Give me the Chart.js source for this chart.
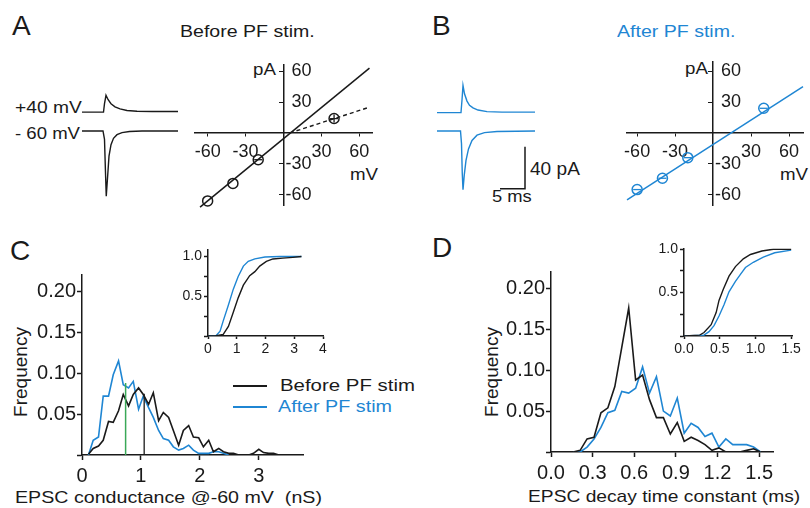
<!DOCTYPE html>
<html>
<head>
<meta charset="utf-8">
<script src="https://cdn.jsdelivr.net/npm/chart.js@4.4.1/dist/chart.umd.min.js"></script>
<style>
  html, body { margin: 0; padding: 0; overflow: hidden; background: #fff; }
  body { position: relative; width: 810px; height: 508px; font-family: "Liberation Sans", Arial, Helvetica, sans-serif; color: #1a1a1a; }
  canvas { position: absolute; }
  .t { position: absolute; white-space: pre; line-height: 1; transform-origin: 0 0; }
  .v { position: absolute; white-space: nowrap; line-height: 1; font-size: 19px; transform: translate(-50%, -50%) rotate(-90deg); }
  .sw { position: absolute; width: 34px; height: 2px; }
</style>
</head>
<body>
<div class="t" style="left:12px;top:12px;font-size:28px">A</div>
<div class="t" style="left:432px;top:12px;font-size:28px">B</div>
<div class="t" style="left:10px;top:237px;font-size:28px">C</div>
<div class="t" style="left:432px;top:234px;font-size:28px">D</div>

<div class="t" style="left:180px;top:23px;font-size:17px;transform:scaleX(1.15)">Before PF stim.</div>
<div class="t" style="left:617px;top:23px;font-size:17px;transform:scaleX(1.15);color:#1f86d3">After PF stim.</div>

<div class="t" style="left:15px;top:100px;font-size:16px;transform:scaleX(1.2)">+40 mV</div>
<div class="t" style="left:15px;top:126px;font-size:16px;transform:scaleX(1.16)">- 60 mV</div>

<div class="t" style="left:253px;top:61px;font-size:17px;transform:scaleX(1.1)">pA</div>
<div class="t" style="left:350px;top:166px;font-size:17px;transform:scaleX(1.1)">mV</div>
<div class="t" style="left:685px;top:60px;font-size:17px;transform:scaleX(1.1)">pA</div>
<div class="t" style="left:780px;top:166px;font-size:17px;transform:scaleX(1.1)">mV</div>

<div class="t" style="left:530px;top:160px;font-size:18px;transform:scaleX(1.06)">40 pA</div>
<div class="t" style="left:492px;top:188px;font-size:17px;transform:scaleX(1.08)">5 ms</div>

<div class="sw" style="left:233px;top:385px;background:#1a1a1a"></div>
<div class="sw" style="left:233px;top:406px;background:#1f86d3"></div>
<div class="t" style="left:280px;top:377px;font-size:17px;transform:scaleX(1.2)">Before PF stim</div>
<div class="t" style="left:278px;top:398px;font-size:17px;transform:scaleX(1.16);color:#1f86d3">After PF stim</div>

<div class="t" style="left:15px;top:489px;font-size:17px;transform:scaleX(1.155)">EPSC conductance @-60 mV  (nS)</div>
<div class="t" style="left:528px;top:488px;font-size:17px;transform:scaleX(1.13)">EPSC decay time constant (ms)</div>
<div class="v" style="left:20px;top:372px">Frequency</div>
<div class="v" style="left:491px;top:372px">Frequency</div>

<script>
const INK = "#1a1a1a";
const BLUE = "#1f86d3";
const GREEN = "#3aa857";
const FONT = '"Liberation Sans", Arial, Helvetica, sans-serif';

// --- A / B : I-V relations (mV, pA)
const ivVoltsA = [-60, -40, -20, 40];
const ivCurrA = [-66, -49, -26, 14];
const fitA_V = [-66, 68];
const fitA_I = [-72, 63];
const dashA_V = [5, 68];
const dashA_I = [0, 25];
const ivVoltsB = [-60, -40, -20, 40];
const ivCurrB = [-55, -44, -24, 24];
const fitB_V = [-68, 71];
const fitB_I = [-65, 45];
const ivTicks = [-60, -30, 30, 60];

// --- example EPSC traces (ms, pA)
const tA60 = [0, 4.2, 4.5, 4.7, 4.85, 5.1, 5.4, 5.8, 6.3, 7.0, 8.0, 9.5, 12, 19.2];
const iA60 = [0, 0, -8, -40, -62, -45, -24, -13, -7, -3.5, -1.5, -0.5, 0, 0];
const tA40 = [0, 4.3, 4.5, 4.8, 5.2, 5.8, 6.6, 7.6, 9, 11, 14, 19.2];
const iA40 = [0, 0, 8, 16, 12, 8, 5, 3, 1.5, 0.8, 0.5, 0.5];
const tB60 = [0, 4.7, 4.9, 5.05, 5.2, 5.45, 5.8, 6.3, 7.0, 8.0, 9.5, 12, 19.6];
const iB60 = [0, 0, -12, -40, -56, -42, -28, -17, -9, -4, -1.5, -0.5, 0];
const tB40 = [0, 4.8, 5.0, 5.2, 5.5, 6.0, 6.5, 7.2, 8.2, 10, 13, 19.6];
const iB40 = [0, 0, 12, 26, 18, 11, 7, 4.5, 2.5, 1, 0.5, 0.5];
const barT = [12.6, 17.6, 17.6];
const barI = [-55, -55, -15];

// --- C : conductance histogram (nS, frequency)
const condBins = [0.11, 0.19, 0.28, 0.36, 0.45, 0.53, 0.62, 0.70, 0.79, 0.87, 0.96, 1.04, 1.13, 1.21, 1.30, 1.38, 1.47, 1.55, 1.64, 1.72, 1.81, 1.89, 1.98, 2.06, 2.15, 2.23, 2.32, 2.40, 2.49, 2.57, 2.66, 2.74, 2.83, 2.91, 3.00, 3.08, 3.17, 3.25, 3.34];
const condBefore = [0.001, 0.008, 0.011, 0.018, 0.041, 0.040, 0.054, 0.074, 0.060, 0.074, 0.082, 0.074, 0.062, 0.076, 0.042, 0.052, 0.046, 0.030, 0.012, 0.030, 0.036, 0.022, 0.021, 0.010, 0.018, 0.004, 0.008, 0.004, 0.002, 0.002, 0, 0, 0, 0.002, 0.007, 0.003, 0.002, 0.002, 0];
const condAfter = [0, 0.018, 0.022, 0.072, 0.072, 0.098, 0.115, 0.086, 0.082, 0.090, 0.056, 0.072, 0.058, 0.046, 0.030, 0.020, 0.018, 0.010, 0.006, 0.008, 0.012, 0.006, 0.002, 0.002, 0.002, 0.004, 0.004, 0.002, 0];
const condMeanX = [0.74, 1.055];
const condMeanTop = [0.088, 0.075];
const condCumX_before = [0, 0.24, 0.53, 0.71, 0.88, 1.05, 1.23, 1.45, 1.63, 1.80, 2.03, 2.26, 2.6, 2.95, 3.25];
const condCum_before = [0, 0, 0.02, 0.12, 0.30, 0.48, 0.64, 0.76, 0.81, 0.88, 0.94, 0.97, 0.98, 0.99, 1.0];
const condCumX_after = [0, 0.27, 0.42, 0.53, 0.71, 0.88, 1.05, 1.23, 1.40, 1.63, 1.98, 2.5, 3.25];
const condCum_after = [0, 0, 0.06, 0.19, 0.39, 0.59, 0.75, 0.88, 0.94, 0.97, 0.995, 1.0, 1.0];

// --- D : decay time constant histogram (ms, frequency)
const decayBins = [0.16, 0.21, 0.26, 0.31, 0.36, 0.41, 0.46, 0.51, 0.56, 0.61, 0.66, 0.71, 0.76, 0.81, 0.86, 0.91, 0.96, 1.01, 1.06, 1.11, 1.16, 1.21, 1.26, 1.31, 1.36, 1.41, 1.46, 1.51];
const decayBefore = [0, 0.002, 0.016, 0.018, 0.048, 0.054, 0.080, 0.128, 0.176, 0.088, 0.094, 0.064, 0.042, 0.042, 0.022, 0.036, 0.013, 0.018, 0.014, 0.009, 0.002, 0.005, 0, 0, 0, 0.002, 0.004, 0];
const decayAfter = [0, 0, 0.006, 0.016, 0.030, 0.048, 0.051, 0.074, 0.072, 0.078, 0.104, 0.072, 0.092, 0.050, 0.044, 0.066, 0.023, 0.035, 0.030, 0.019, 0.023, 0.006, 0.016, 0.009, 0.009, 0.009, 0.006, 0];
const decayCumX_before = [0, 0.22, 0.28, 0.38, 0.45, 0.49, 0.55, 0.63, 0.72, 0.83, 0.93, 1.09, 1.25, 1.5];
const decayCum_before = [0, 0.01, 0.04, 0.13, 0.27, 0.41, 0.54, 0.69, 0.80, 0.89, 0.94, 0.98, 1.0, 1.0];
const decayCumX_after = [0, 0.28, 0.35, 0.42, 0.49, 0.56, 0.63, 0.72, 0.79, 0.86, 0.97, 1.11, 1.27, 1.5];
const decayCum_after = [0, 0.01, 0.05, 0.12, 0.23, 0.36, 0.51, 0.63, 0.71, 0.79, 0.85, 0.91, 0.96, 0.99];

const histYTicks = [0, 0.05, 0.10, 0.15, 0.20];
const condXTicks = [0, 1, 2, 3];
const decayXTicks = [0, 0.3, 0.6, 0.9, 1.2, 1.5];
const cumYTicks = [0, 0.25, 0.5, 0.75, 1.0];
const condCumXTicks = [0, 1, 2, 3, 4];
const decayCumXTicks = [0, 0.5, 1.0, 1.5];

Chart.defaults.font.family = FONT;
Chart.defaults.color = INK;
Chart.defaults.plugins.legend.display = false;
Chart.defaults.plugins.tooltip.enabled = false;

function makeCanvas(left, top, w, h) {
  const c = document.createElement("canvas");
  c.width = w;
  c.height = h;
  c.style.left = left + "px";
  c.style.top = top + "px";
  c.style.width = w + "px";
  c.style.height = h + "px";
  document.body.appendChild(c);
  return c.getContext("2d");
}

function pts(xs, ys, shift) {
  return xs.map((x, i) => ({ x: x, y: ys[i] + (shift || 0) }));
}

function line(xs, ys, color, width, extra) {
  return Object.assign({
    data: pts(xs, ys),
    borderColor: color,
    borderWidth: width,
    pointRadius: 0,
    fill: false,
    tension: 0,
  }, extra || {});
}

// axis with a frame line on the left / bottom, ticks pointing outward
function frameAxis(o) {
  return {
    type: "linear",
    position: o.pos,
    min: o.min,
    max: o.max,
    afterFit: (s) => {
      if (o.pos === "left") s.width = o.size;
      else s.height = o.size;
    },
    afterBuildTicks: (s) => { s.ticks = o.ticks.map((v) => ({ value: v })); },
    grid: { drawOnChartArea: false, drawTicks: true, tickLength: o.tl, tickWidth: 1.5, tickColor: INK, color: INK },
    border: { display: true, color: INK, width: 1.5 },
    ticks: { color: INK, font: { size: o.fs }, padding: o.pad, autoSkip: false, maxRotation: 0, callback: o.fmt },
  };
}

function frameChart(ctx, datasets, xAxis, yAxis, pad) {
  return new Chart(ctx, {
    type: "line",
    data: { datasets: datasets },
    options: {
      responsive: false,
      animation: false,
      devicePixelRatio: 1,
      layout: { padding: pad },
      scales: { x: frameAxis(xAxis), y: frameAxis(yAxis) },
    },
  });
}

// y labels of the crossing axes sit to the right of the axis
const ivLabelShift = {
  id: "ivLabelShift",
  beforeDraw(chart) {
    const ys = chart.scales.y;
    if (!ys.getLabelItems) return;
    const x0 = chart.scales.x.getPixelForValue(0);
    ys.getLabelItems().forEach((it) => {
      it.options.translation[0] = x0 + 28;
      it.options.textAlign = "right";
    });
  },
};

function ivChart(ctx, datasets, xr, yr) {
  return new Chart(ctx, {
    type: "line",
    data: { datasets: datasets },
    plugins: [ivLabelShift],
    options: {
      responsive: false,
      animation: false,
      devicePixelRatio: 1,
      layout: { padding: 20 },
      scales: {
        x: {
          type: "linear", min: xr[0], max: xr[1], position: { y: 0 },
          afterBuildTicks: (s) => { s.ticks = ivTicks.map((v) => ({ value: v })); },
          grid: { drawOnChartArea: false, drawTicks: true, tickLength: 3, tickColor: INK },
          border: { color: INK, width: 1.5 },
          ticks: { color: INK, font: { size: 18 }, padding: 5, autoSkip: false, maxRotation: 0 },
        },
        y: {
          type: "linear", min: yr[0], max: yr[1], position: { x: 0 },
          afterBuildTicks: (s) => { s.ticks = ivTicks.map((v) => ({ value: v })); },
          grid: { drawOnChartArea: false, drawTicks: true, tickLength: 4, tickColor: INK },
          border: { color: INK, width: 1.5 },
          ticks: { color: INK, font: { size: 18 }, padding: 0, autoSkip: false },
        },
      },
    },
  });
}

function traceChart(ctx, datasets, tMax, iRange) {
  return new Chart(ctx, {
    type: "line",
    data: { datasets: datasets },
    options: {
      responsive: false,
      animation: false,
      devicePixelRatio: 1,
      layout: { padding: 2 },
      scales: {
        x: { type: "linear", display: false, min: 0, max: tMax },
        y: { type: "linear", display: false, min: iRange[0], max: iRange[1] },
      },
    },
  });
}

function circles(xs, ys, color) {
  return {
    data: pts(xs, ys),
    showLine: false,
    pointStyle: "circle",
    pointRadius: 5,
    pointBorderWidth: 1.5,
    pointBorderColor: color,
    pointBackgroundColor: "rgba(255,255,255,0)",
    clip: false,
  };
}

function marks(xs, ys, color, style) {
  return {
    data: pts(xs, ys),
    showLine: false,
    pointStyle: style,
    pointRadius: 4,
    pointBorderWidth: 1.3,
    pointBorderColor: color,
    clip: false,
  };
}

// ---- traces A
const upperShiftA = 18;
traceChart(makeCanvas(80, 83, 100, 121), [
  line(tA40, iA40, INK, 1.4, { data: pts(tA40, iA40, upperShiftA), clip: false }),
  line(tA60, iA60, INK, 1.4, { clip: false }),
], 19.2, [-67.6, 43.8]);

// ---- traces B with scale bar
const upperShiftB = 17.5;
traceChart(makeCanvas(435, 78, 102, 116), [
  line(tB40, iB40, BLUE, 1.4, { data: pts(tB40, iB40, upperShiftB), clip: false }),
  line(tB60, iB60, BLUE, 1.4, { clip: false }),
  line(barT, barI, INK, 1.5, { clip: false }),
], 19.6, [-58.1, 48.6]);

// ---- I-V A
ivChart(makeCanvas(175, 45, 217, 180), [
  circles(ivVoltsA, ivCurrA, INK),
  marks(ivVoltsA.slice(3), ivCurrA.slice(3), INK, "cross"),
  marks(ivVoltsA.slice(2, 3), ivCurrA.slice(2, 3), INK, "line"),
  line(fitA_V, fitA_I, INK, 1.5, { clip: false }),
  line(dashA_V, dashA_I, INK, 1.4, { borderDash: [4, 3], clip: false }),
], [-70, 70], [-70, 66]);

// ---- I-V B
ivChart(makeCanvas(607, 42, 216, 183), [
  circles(ivVoltsB, ivCurrB, BLUE),
  marks(ivVoltsB, ivCurrB, BLUE, "line"),
  line(fitB_V, fitB_I, BLUE, 1.5, { clip: false }),
], [-68, 71], [-70, 69]);

// ---- C histogram
const freqFmt = (v) => (v === 0 ? "" : v.toFixed(2));
frameChart(makeCanvas(20, 262, 295, 225), [
  line([condMeanX[0], condMeanX[0]], [0, condMeanTop[0]], GREEN, 1.5),
  line([condMeanX[1], condMeanX[1]], [0, condMeanTop[1]], INK, 1.3),
  line(condBins, condBefore, INK, 1.6),
  line(condBins.slice(0, condAfter.length), condAfter, BLUE, 1.6),
], { pos: "bottom", min: 0, max: 3.75, ticks: condXTicks, size: 32, tl: 5, pad: 4, fs: 20, fmt: (v) => String(v) },
   { pos: "left", min: 0, max: 0.22, ticks: histYTicks, size: 62, tl: 5, pad: 1, fs: 20, fmt: freqFmt },
   { top: 10, right: 12, left: 0, bottom: 0 });

// ---- C inset (cumulative)
const cumFmt = (v) => (v === 0.5 || v === 1 ? v.toFixed(1) : "");
frameChart(makeCanvas(168, 239, 163, 119), [
  line(condCumX_before, condCum_before, INK, 1.4),
  line(condCumX_after, condCum_after, BLUE, 1.4),
], { pos: "bottom", min: 0, max: 4, ticks: condCumXTicks, size: 22, tl: 3, pad: 2, fs: 14, fmt: (v) => String(v) },
   { pos: "left", min: 0, max: 1.09, ticks: cumYTicks, size: 40, tl: 4, pad: 2, fs: 14, fmt: cumFmt },
   { top: 6, right: 8, left: 0, bottom: 0 });

// ---- D histogram
frameChart(makeCanvas(489, 259, 296, 225), [
  line(decayBins, decayBefore, INK, 1.6),
  line(decayBins, decayAfter, BLUE, 1.6),
], { pos: "bottom", min: 0, max: 1.6, ticks: decayXTicks, size: 32, tl: 5, pad: 4, fs: 20, fmt: (v) => v.toFixed(1) },
   { pos: "left", min: 0, max: 0.22, ticks: histYTicks, size: 62, tl: 5, pad: 1, fs: 20, fmt: freqFmt },
   { top: 10, right: 12, left: 0, bottom: 0 });

// ---- D inset (cumulative)
frameChart(makeCanvas(644, 238, 159, 120), [
  line(decayCumX_before, decayCum_before, INK, 1.4),
  line(decayCumX_after, decayCum_after, BLUE, 1.4),
], { pos: "bottom", min: 0, max: 1.52, ticks: decayCumXTicks, size: 22, tl: 3, pad: 2, fs: 14, fmt: (v) => v.toFixed(1) },
   { pos: "left", min: 0, max: 1.01, ticks: cumYTicks, size: 40, tl: 4, pad: 2, fs: 14, fmt: cumFmt },
   { top: 6, right: 8, left: 0, bottom: 0 });
</script>
</body>
</html>
